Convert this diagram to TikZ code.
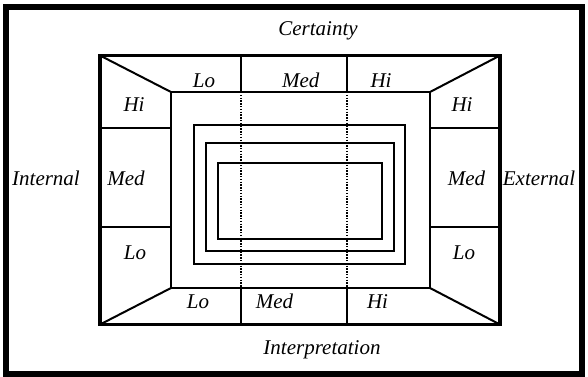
\documentclass[tikz,border=0pt]{standalone}
\usepackage{fontspec}
\setmainfont{Liberation Serif}
\begin{document}
\begin{tikzpicture}[x=0.5pt,y=-0.5pt,
  lbl/.style={font=\fontsize{10.5}{12}\selectfont\itshape, inner sep=0pt, anchor=base},
  outerframe/.style={line width=3pt},
  midframe/.style={line width=1.6pt},
  thin/.style={line width=1pt},
  guide/.style={line width=0.8pt, dash pattern=on 0.7pt off 0.7pt}]
\useasboundingbox (0,0) rectangle (588,376);

% outer frame
\draw[outerframe] (5.5,6.5) rectangle (582,373.5);

% corners of the middle and inner frames
\coordinate (m1) at (100,55.5);  \coordinate (m2) at (500,55.5);
\coordinate (m3) at (500,324.5); \coordinate (m4) at (100,324.5);
\coordinate (i1) at (171,92);    \coordinate (i2) at (430,92);
\coordinate (i3) at (430,288);   \coordinate (i4) at (171,288);

% frames and corner diagonals
\draw[midframe] (m1) rectangle (m3);
\draw[thin] (i1) rectangle (i3);
\draw[thin] (m1) -- (i1) (m2) -- (i2) (m3) -- (i3) (m4) -- (i4);

% dividers in the four bands
\draw[thin] (100,128) -- (171,128) (100,227) -- (171,227);
\draw[thin] (430,128) -- (500,128) (430,227) -- (500,227);
\draw[thin] (240.7,55.5) -- (240.7,92) (347,55.5) -- (347,92);
\draw[thin] (240.7,288) -- (240.7,324.5) (347,288) -- (347,324.5);

% dotted guides through the centre
\draw[guide] (240.7,92) -- (240.7,288) (347,92) -- (347,288);

% nested rectangles
\draw[thin] (194,125) rectangle (405,264);
\draw[thin] (205.7,142.7) rectangle (394,251.3);
\draw[thin] (217.7,163.3) rectangle (382,238.7);

% axis labels
\node[lbl] (cert) at (318,35) {Certainty};
\node[lbl] (interp) at (322,354) {Interpretation};
\node[lbl] (intl) at (46,185) {Internal};
\node[lbl] (extl) at (539,185) {External};

% left band
\node[lbl] (lhi) at (134,111) {Hi};
\node[lbl] (lmed) at (126,185) {Med};
\node[lbl] (llo) at (135,259) {Lo};
% right band
\node[lbl] (rhi) at (462,111) {Hi};
\node[lbl] (rmed) at (466.5,185) {Med};
\node[lbl] (rlo) at (464,259) {Lo};
% top band
\node[lbl] (tlo) at (204,87) {Lo};
\node[lbl] (tmed) at (300.7,87) {Med};
\node[lbl] (thi) at (381,87) {Hi};
% bottom band
\node[lbl] (blo) at (198,308) {Lo};
\node[lbl] (bmed) at (274.5,308) {Med};
\node[lbl] (bhi) at (377.5,308) {Hi};
\end{tikzpicture}
\end{document}
